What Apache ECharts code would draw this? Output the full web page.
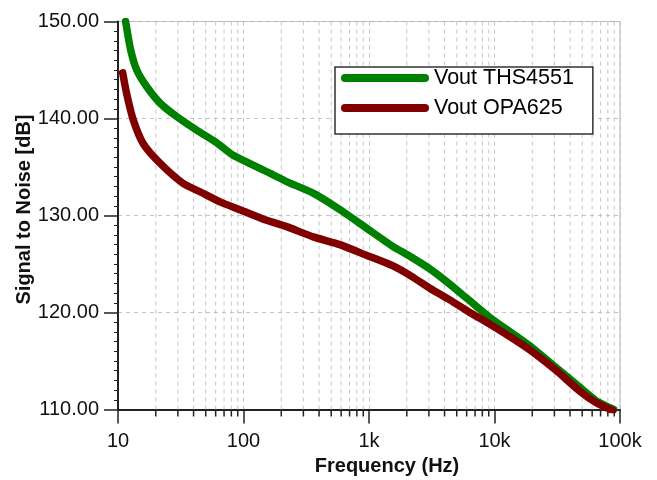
<!DOCTYPE html>
<html>
<head>
<meta charset="utf-8">
<title>Signal to Noise</title>
<script src="https://cdn.jsdelivr.net/npm/echarts@6/dist/echarts.min.js"></script>
<style>
    html, body { margin: 0; padding: 0; background: #fff; }
    #chart { width: 657px; height: 480px; }
</style>
</head>
<body>
<div id="chart"></div>
<script>
// ============================================
// Signal to noise vs frequency
// ============================================

const thsFreq = [11.5, 12.6, 14.1, 16.9, 21.6, 29.3, 42.3, 61.1, 82.8, 172, 220, 359, 586, 955, 1556, 1990, 3050, 4140, 5970, 9160, 14030, 20270, 31130, 47700, 64700, 89000];
const thsSnr  = [150.0, 147.1, 145.0, 143.3, 141.6, 140.2, 138.8, 137.5, 136.2, 134.2, 133.5, 132.3, 130.6, 128.7, 126.8, 126.0, 124.5, 123.2, 121.5, 119.5, 117.8, 116.3, 114.3, 112.3, 110.9, 110.0];

const opaFreq = [10.9, 11.7, 13.2, 15.9, 21.6, 33.1, 45, 64.9, 93.6, 153, 220, 359, 586, 955, 1556, 2200, 3050, 4400, 6350, 9160, 14030, 20270, 31130, 47700, 64700, 87700];
const opaSnr  = [144.7, 142.6, 139.9, 137.4, 135.4, 133.3, 132.45, 131.4, 130.6, 129.5, 128.85, 127.8, 127.0, 125.9, 124.8, 123.7, 122.5, 121.3, 120.0, 118.8, 117.3, 115.9, 114.0, 111.9, 110.7, 109.9];

const seriesNames = ['Vout THS4551', 'Vout OPA625'];
const xTickLabels = { 10: '10', 100: '100', 1000: '1k', 10000: '10k', 100000: '100k' };

const FONT = '"Liberation Sans", Arial, sans-serif';
const GRID_COLOR = '#c4c4c4';

// minor decade positions (2..9 x 10^n) for the dashed grid and small ticks
const minorFreqs = [];
[10, 100, 1000, 10000].forEach(d => {
    for (let m = 2; m <= 9; m++) minorFreqs.push([d * m]);
});

function renderMinor(params, api) {
    const f = api.value(0);
    const top = api.coord([f, 150]);
    const bottom = api.coord([f, 110]);
    return {
        type: 'group',
        children: [
            {
                type: 'line',
                shape: { x1: top[0], y1: top[1], x2: bottom[0], y2: bottom[1] },
                style: { stroke: GRID_COLOR, lineWidth: 1, lineDash: [4, 4] }
            },
            {
                type: 'line',
                shape: { x1: bottom[0], y1: bottom[1], x2: bottom[0], y2: bottom[1] + 7 },
                style: { stroke: '#222', lineWidth: 1.5 }
            }
        ]
    };
}

const chart = echarts.init(document.getElementById('chart'));

chart.setOption({
    animation: false,
    textStyle: { fontFamily: FONT },
    grid: {
        left: 118, right: 37, top: 21.5, bottom: 70.5,
        outerBoundsMode: 'none',
        containLabel: false,
        show: true, borderColor: '#b4b4b4', borderWidth: 1
    },
    legend: {
        data: seriesNames,
        orient: 'vertical',
        left: 335, top: 67,
        padding: [0, 19, 15, 6],
        itemGap: 8,
        itemWidth: 88, itemHeight: 8,
        backgroundColor: '#fff',
        borderColor: '#333', borderWidth: 1.5,
        icon: 'path://M4,0H84A4,4 0 0 1 84,8H4A4,4 0 0 1 4,0Z',
        textStyle: { fontSize: 21.5, color: '#000', lineHeight: 21, fontFamily: FONT }
    },
    xAxis: {
        type: 'log',
        logBase: 10,
        min: 10, max: 100000,
        name: 'Frequency (Hz)',
        nameLocation: 'middle',
        nameGap: 47,
        nameMoveOverlap: false,
        nameTextStyle: { fontSize: 20, fontWeight: 'bold', color: '#111', padding: [0, 0, 0, 36] },
        axisLine: { lineStyle: { color: '#222', width: 2 } },
        axisTick: { length: 14, lineStyle: { color: '#222', width: 1.5 } },
        axisLabel: {
            fontSize: 20, color: '#111', margin: 22,
            formatter: v => xTickLabels[Math.round(v)] || ''
        },
        splitLine: { show: true, lineStyle: { color: GRID_COLOR, type: [4, 4] } }
    },
    yAxis: {
        type: 'value',
        min: 110, max: 150, interval: 10,
        name: 'Signal to Noise [dB]',
        nameLocation: 'middle',
        nameGap: 84,
        nameMoveOverlap: false,
        nameTextStyle: { fontSize: 20, fontWeight: 'bold', color: '#111', padding: [0, 0, 0, 12] },
        axisLine: { show: true, lineStyle: { color: '#222', width: 2 } },
        axisTick: { show: true, length: 14, lineStyle: { color: '#222', width: 1.5 } },
        minorTick: { show: true, splitNumber: 10, length: 4, lineStyle: { color: '#222', width: 1 } },
        axisLabel: {
            fontSize: 20, color: '#111', margin: 19,
            formatter: v => v.toFixed(2)
        },
        splitLine: { show: true, lineStyle: { color: GRID_COLOR, type: [4, 4] } }
    },
    series: [
        {
            type: 'custom',
            name: 'minorGrid',
            data: minorFreqs,
            renderItem: renderMinor,
            clip: false,
            silent: true,
            z: 1
        },
        {
            name: seriesNames[0],
            type: 'line',
            data: thsFreq.map((f, i) => [f, thsSnr[i]]),
            showSymbol: false,
            smooth: 0.2,
            color: '#008000',
            lineStyle: { width: 7.5, color: '#008000', cap: 'round', join: 'round' },
            z: 3
        },
        {
            name: seriesNames[1],
            type: 'line',
            data: opaFreq.map((f, i) => [f, opaSnr[i]]),
            showSymbol: false,
            smooth: 0.2,
            color: '#800000',
            lineStyle: { width: 7.5, color: '#800000', cap: 'round', join: 'round' },
            z: 4
        }
    ]
});
</script>
</body>
</html>
